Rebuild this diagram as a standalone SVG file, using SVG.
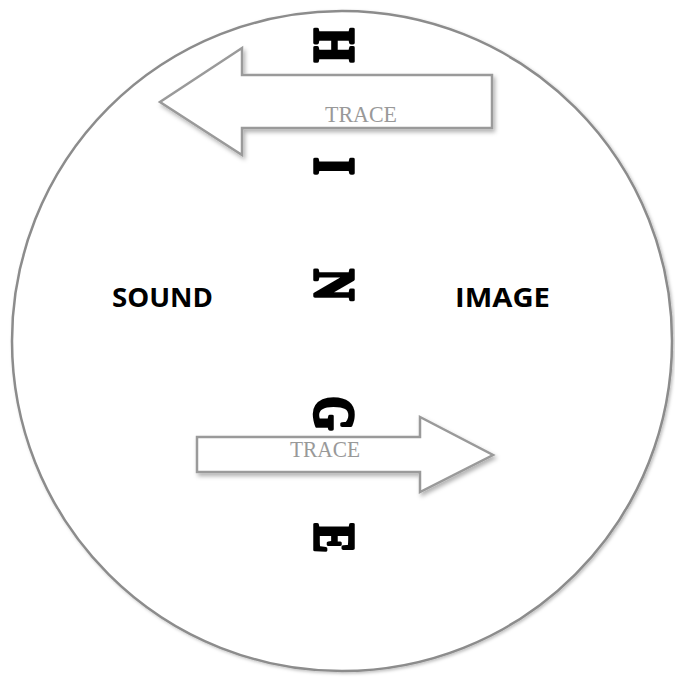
<svg xmlns="http://www.w3.org/2000/svg" width="675" height="679" viewBox="0 0 675 679">
  <defs>
    <filter id="shadow" x="-10%" y="-20%" width="130%" height="150%">
      <feDropShadow dx="2" dy="3" stdDeviation="2" flood-color="#000" flood-opacity="0.3"/>
    </filter>
    <filter id="cshadow" x="-5%" y="-5%" width="110%" height="110%">
      <feDropShadow dx="1.5" dy="1.5" stdDeviation="1.5" flood-color="#000" flood-opacity="0.25"/>
    </filter>
    <style>
      .circle { fill: #ffffff; stroke: #8c8c8c; stroke-width: 2.5; }
      .arrow { fill: #ffffff; stroke: #9a9a9a; stroke-width: 2.5; stroke-linejoin: miter; }
      .trace { font-family: "Liberation Serif", "DejaVu Serif", serif; font-size: 23px; fill: #999999; text-anchor: middle; }
      .label { font-family: "Open Sans", "Liberation Sans", sans-serif; font-weight: bold; font-size: 26px; fill: #000000; }
      .hinge { font-family: "Liberation Serif", "DejaVu Serif", serif; font-weight: 900; font-size: 56px; fill: #000000; stroke: #000000; stroke-width: 3.5; stroke-linejoin: round; text-anchor: middle; }
    </style>
  </defs>
  <rect x="0" y="0" width="675" height="679" fill="#ffffff"/>
  <g id="circle">
    <circle class="circle" cx="342" cy="341" r="330" filter="url(#cshadow)"/>
  </g>
  <g id="hinge">
    <text class="hinge" transform="translate(315,0) rotate(90) scale(0.78,1)"><tspan x="58" y="0">H</tspan><tspan x="213" y="0">I</tspan><tspan x="365" y="0">N</tspan><tspan x="530" y="0">G</tspan><tspan x="690" y="0">E</tspan></text>
  </g>
  <g id="sound">
    <text class="label" x="112" y="307" textLength="101" lengthAdjust="spacingAndGlyphs">SOUND</text>
  </g>
  <g id="image">
    <text class="label" x="455" y="307" textLength="95" lengthAdjust="spacingAndGlyphs">IMAGE</text>
  </g>
  <g id="connectors">
    <g id="trace-top">
      <polygon class="arrow" filter="url(#shadow)" points="492,75 242,75 242,48 160,102 242,155 242,128 492,128"/>
      <text class="trace" x="361" y="122" textLength="72" lengthAdjust="spacingAndGlyphs">TRACE</text>
    </g>
    <g id="trace-bottom">
      <polygon class="arrow" filter="url(#shadow)" points="197,437 420,437 420,417 493,455 420,492 420,472 197,472"/>
      <text class="trace" x="325" y="457" textLength="70" lengthAdjust="spacingAndGlyphs">TRACE</text>
    </g>
  </g>
</svg>
